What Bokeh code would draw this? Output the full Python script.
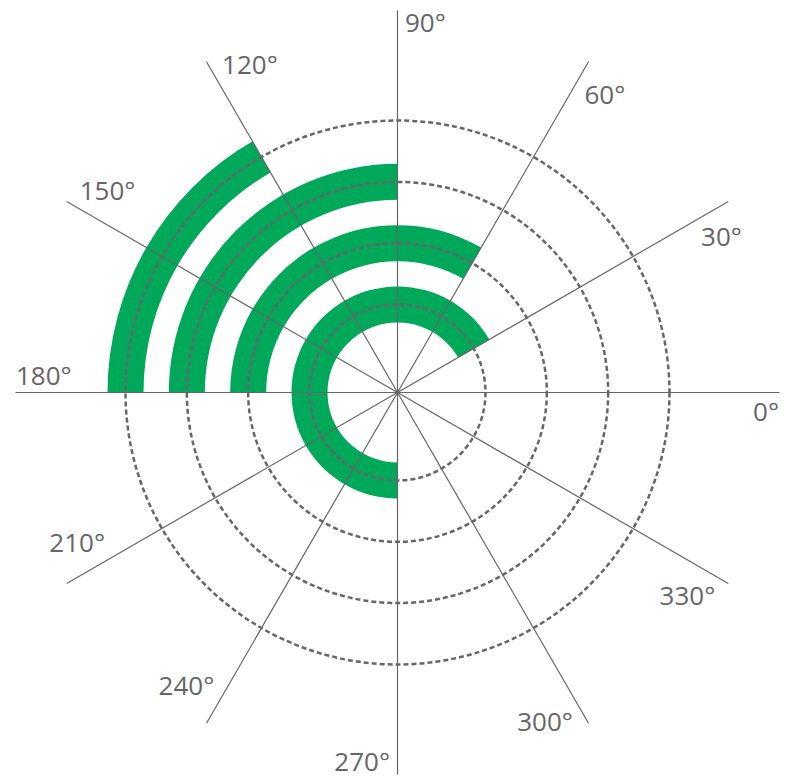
import math
from bokeh.plotting import figure
from bokeh.models import ColumnDataSource, Range1d
from bokeh.core.properties import value
from bokeh.embed import file_html
from bokeh.resources import INLINE

# ---- data ----
rings = [1, 2, 3, 4]                    # radial category index (inner -> outer)
start_deg = [270, 180, 180, 180]        # bar start angle (degrees)
end_deg = [30, 60, 90, 120]             # bar end angle (degrees, drawn clockwise)
angle_ticks = [0, 30, 60, 90, 120, 150, 180, 210, 240, 270, 300, 330]
angle_labels = [f"{a}°" for a in angle_ticks]

# ---- layout constants (pixels == data units) ----
W, H = 786, 779
CX, CY = 397, 392          # centre in canvas pixels
R0, BAND, BAR_W = 88.0, 61.33, 36.0
R_AXIS = 382.0
FONT = "Open Sans"
FS = 26
GREEN = "#00A859"
GRAY = "#666666"

p = figure(width=W, height=H, output_backend="svg", toolbar_location=None,
           x_range=Range1d(-CX, W - CX), y_range=Range1d(-(H - CY), CY),
           x_axis_type=None, y_axis_type=None, min_border=0)
p.grid.visible = False
p.outline_line_color = None
p.background_fill_color = "white"
p.border_fill_color = "white"

centers = [R0 + (k - 1) * BAND for k in rings]
src = ColumnDataSource(dict(
    inner=[c - BAR_W / 2 for c in centers],
    outer=[c + BAR_W / 2 for c in centers],
    start=[math.radians(a) for a in start_deg],
    end=[math.radians(a) for a in end_deg],
))
p.annular_wedge(x=0, y=0, inner_radius="inner", outer_radius="outer",
                start_angle="start", end_angle="end", direction="clock",
                fill_color=GREEN, line_color=None, source=src)

# dashed radial grid circles at each category centre
p.circle(x=[0] * len(centers), y=[0] * len(centers), radius=centers,
         fill_color=None, line_color=GRAY, line_width=2.5, line_dash="5 3")

# angular spokes
ang = [math.radians(a) for a in angle_ticks]
p.segment(x0=[0] * len(ang), y0=[0] * len(ang),
          x1=[R_AXIS * math.cos(t) for t in ang],
          y1=[R_AXIS * math.sin(t) for t in ang],
          line_color=GRAY, line_width=1.2)

# angle labels: placed just beside the spoke end, clockwise side, inside radius
lx, ly = [], []
y_floor = -(H - CY) + 19   # keep labels fully inside the canvas
for lab, t in zip(angle_labels, ang):
    w = 0.572 * FS * (len(lab) - 1) + 10
    h = 20
    c, s = math.cos(t), math.sin(t)
    supp_r = w / 2 * abs(c) + h / 2 * abs(s)
    supp_t = w / 2 * abs(s) + h / 2 * abs(c)
    lx.append(R_AXIS * c - (supp_r + 1) * c + (supp_t + 8) * s)
    ly.append(max(y_floor, R_AXIS * s - (supp_r + 1) * s - (supp_t + 8) * c))
p.text(x=lx, y=ly, text=angle_labels, text_font=value(FONT),
       text_font_size=f"{FS}px", text_color=GRAY, text_line_height=1.0,
       text_align="center", text_baseline="middle")

open("out.html", "w").write(file_html(p, INLINE))
